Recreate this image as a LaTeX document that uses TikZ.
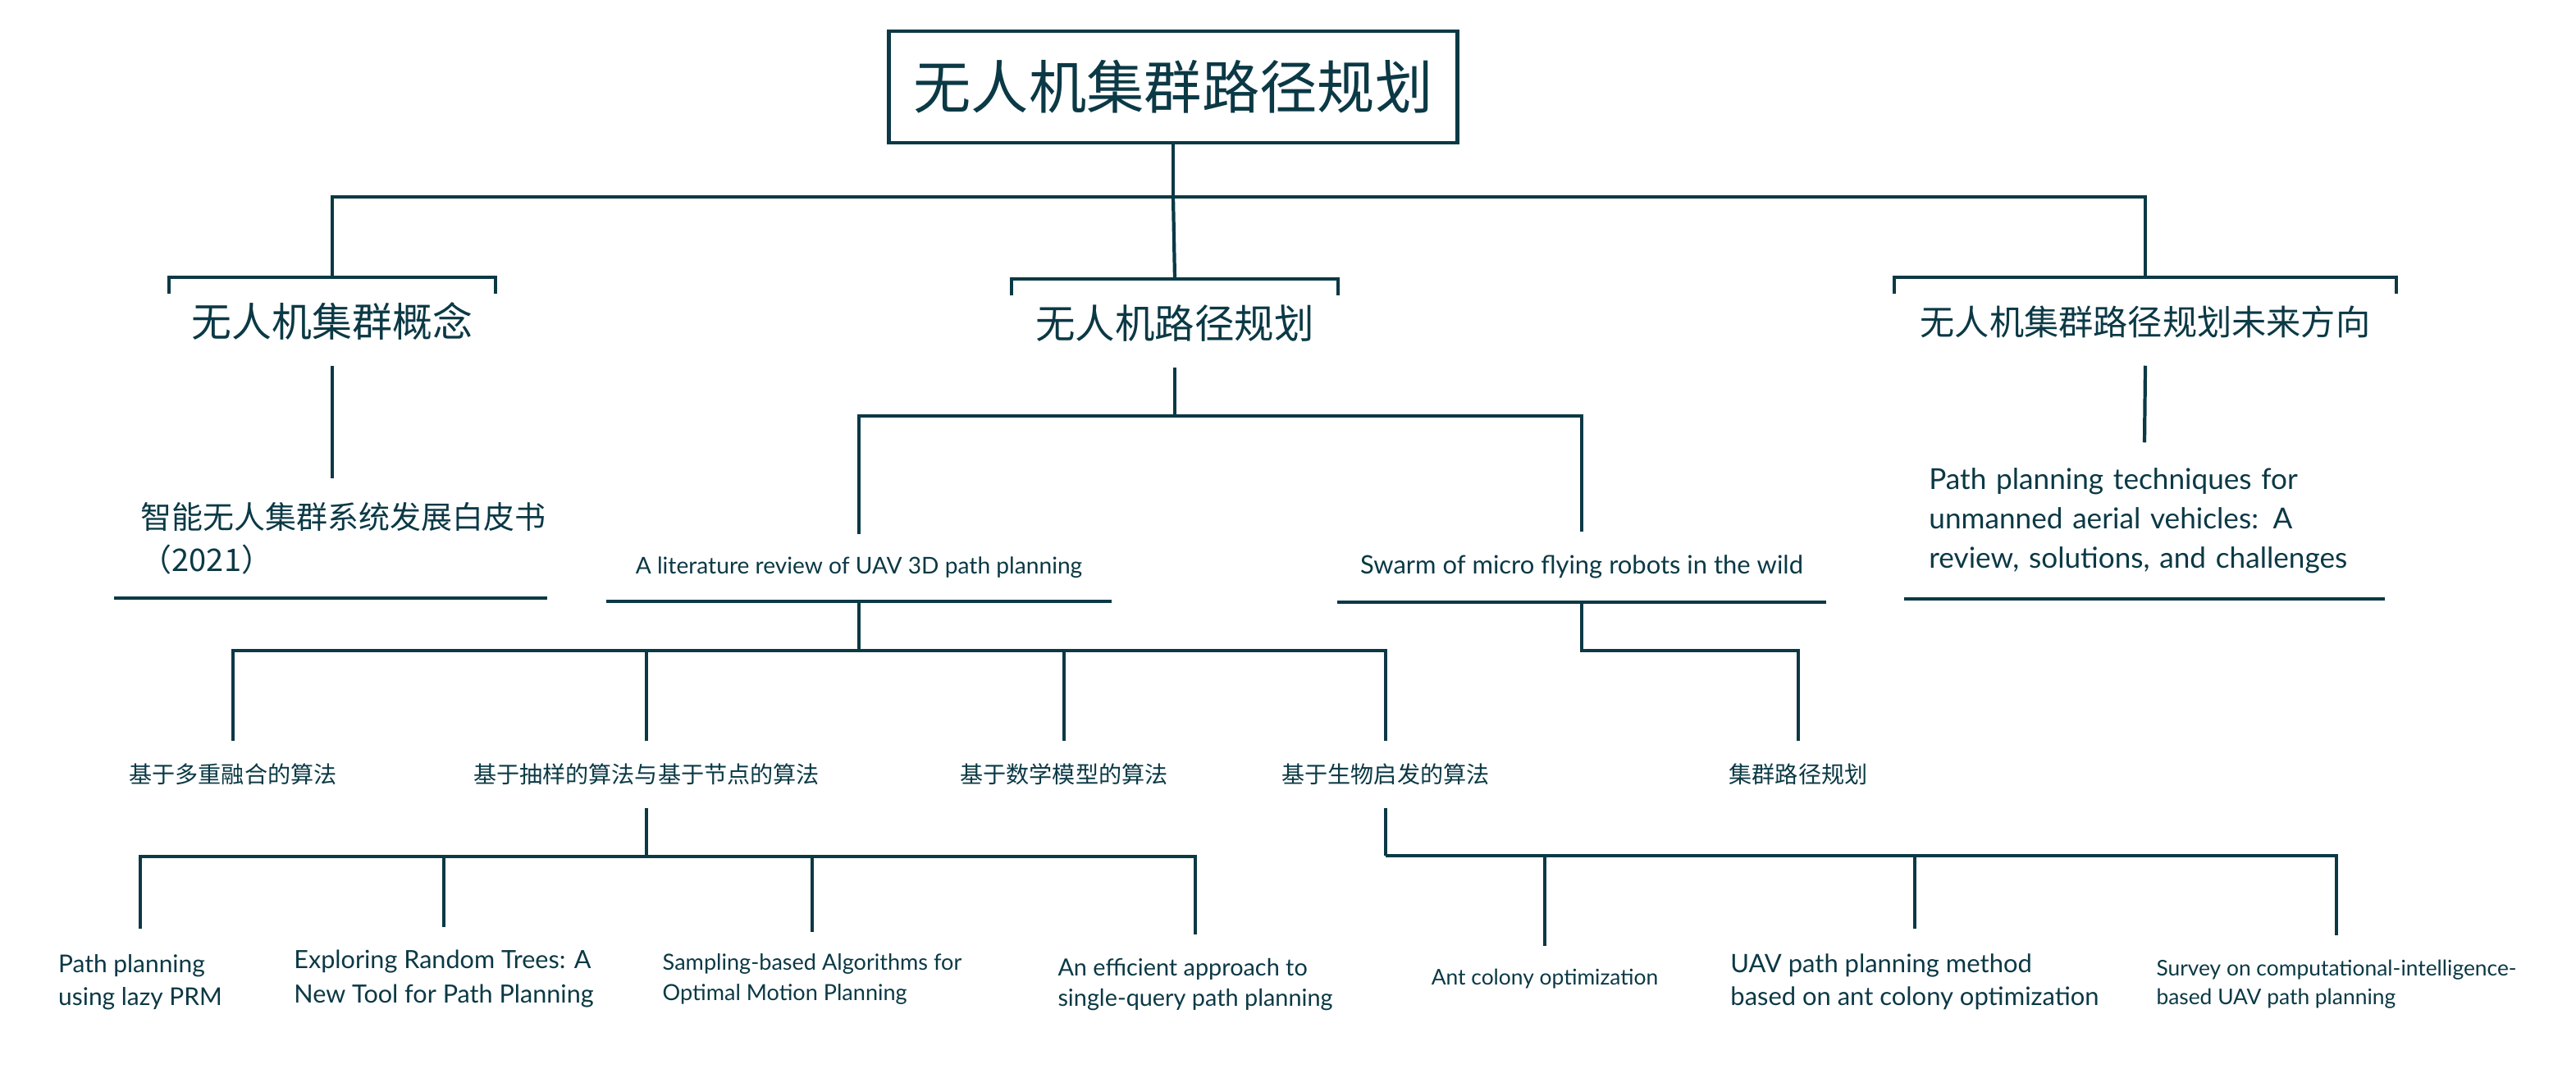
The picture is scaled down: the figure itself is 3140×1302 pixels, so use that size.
\documentclass[tikz,border=0pt]{standalone}
\usepackage{fontspec}
\setmainfont{Lato}
\newfontfamily\cjk{Noto Sans CJK SC}
\usetikzlibrary{positioning,calc}
\definecolor{treeink}{RGB}{11,57,69}
\newcommand{\fsz}[2]{\fontsize{#1}{#2}\selectfont}
\tikzset{
  link/.style={draw=treeink,line width=1.2pt},
  rootbox/.style={draw=treeink,line width=1.3pt,minimum width=6.93cm,minimum height=1.36cm,inner sep=0pt,text=treeink,font=\cjk\fsz{20}{24}},
  topic/.style={inner sep=0pt,minimum height=1.06cm,text=treeink},
  paper/.style={inner sep=0pt,align=left,text=treeink},
  method/.style={inner sep=0pt,minimum height=0.8cm,text=treeink,font=\cjk\fsz{8}{10}}
}
\begin{document}
\begin{tikzpicture}[x=0.01cm,y=-0.01cm]
  \useasboundingbox (0,0) rectangle (3140,1302);

  \node[rootbox] (root) at (1430,106) {无人机集群路径规划};

  \node[topic,minimum width=3.97cm,font=\cjk\fsz{13.9}{16}] (concept) at (405,392) {无人机集群概念};
  \node[topic,minimum width=3.96cm,font=\cjk\fsz{13.8}{16}] (uavpp) at (1432,394) {无人机路径规划};
  \node[topic,minimum width=6.10cm,font=\cjk\fsz{12}{14}] (future) at (2615,392) {无人机集群路径规划未来方向};

  \node[paper,text width=4.94cm,minimum height=1.45cm,font=\cjk\fsz{10.8}{14.8}] (whitebook) at (419,656) {智能无人集群系统发展白皮书\\（2021）};
  \node[paper,align=center,minimum width=6.14cm,minimum height=0.8cm,font=\fsz{8}{10}] (litrev) at (1047,692) {A literature review of UAV 3D path planning};
  \node[paper,align=center,minimum width=5.94cm,minimum height=0.84cm,font=\fsz{8.8}{10}] (swarm) at (1928,691) {Swarm of micro flying robots in the wild};
  \node[paper,text width=5.25cm,inner xsep=0.3cm,minimum height=1.89cm,font=\fsz{10}{13.7}] (survey) at (2614,634.5) {Path planning techniques for\\unmanned aerial vehicles: A\\review, solutions, and challenges};

  \node[method] (fusion) at (284,944) {基于多重融合的算法};
  \node[method] (sampling) at (788,944) {基于抽样的算法与基于节点的算法};
  \node[method] (mathmod) at (1297,944) {基于数学模型的算法};
  \node[method] (bioinsp) at (1689,944) {基于生物启发的算法};
  \node[method] (swarmpp) at (2192,944) {集群路径规划};

  \node[paper,minimum height=1.28cm,font=\fsz{8.5}{11.4}] (lazyprm) at (171,1197) {Path planning\\using lazy PRM};
  \node[paper,minimum height=1.24cm,font=\fsz{8.7}{11.8}] (rrt) at (541,1193) {Exploring Random Trees: A\\New Tool for Path Planning};
  \node[paper,minimum height=1.13cm,font=\fsz{7.7}{10.5}] (optmp) at (990,1193.5) {Sampling-based Algorithms for\\Optimal Motion Planning};
  \node[paper,minimum height=1.20cm,font=\fsz{8.2}{10.4}] (sqpp) at (1457,1200) {An efficient approach to\\single-query path planning};
  \node[paper,minimum height=0.78cm,font=\fsz{7.5}{9}] (antco) at (1883,1193) {Ant colony optimization};
  \node[paper,minimum height=1.28cm,font=\fsz{8.8}{11.4}] (uavaco) at (2334,1197) {UAV path planning method\\based on ant colony optimization};
  \node[paper,minimum height=1.17cm,font=\fsz{7.5}{10}] (cisurvey) at (2848,1199.5) {Survey on computational-intelligence-\\based UAV path planning};

  \coordinate (rootbar) at (1430,240);
  \coordinate (uavbar) at (1432,507);
  \coordinate (litbar) at (1047,793);
  \coordinate (swbar) at (1928,793);
  \coordinate (sampbar) at (788,1044);
  \coordinate (biobar) at (1689,1043);

  \draw[link] (root) -- (rootbar) -| (concept.north);
  \draw[link] (rootbar) -| (future.north);
  \draw[link] (rootbar) -- (uavpp.north);
  \foreach \t in {concept,uavpp,future}
    \draw[link] ([yshift=-0.2cm]\t.north west) -- (\t.north west) -- (\t.north east) -- ([yshift=-0.2cm]\t.north east);

  \draw[link] (concept.south) -- (concept.south |- whitebook.north);
  \draw[link] ([xshift=-0.32cm]whitebook.south west) -- (whitebook.south east);
  \draw[link] (uavpp.south) -- (uavbar) -| (litrev.north);
  \draw[link] (uavbar) -| (swarm.north);
  \draw[link] (future.south) -- (survey.north);
  \foreach \t in {litrev,swarm,survey}
    \draw[link] (\t.south west) -- (\t.south east);

  \draw[link] (litrev.south) -- (litbar) -| (fusion.north);
  \foreach \m in {sampling,mathmod,bioinsp}
    \draw[link] (litbar) -| (\m.north);
  \draw[link] (swarm.south) -- (swbar) -| (swarmpp.north);

  \draw[link] (sampling.south) -- (sampbar);
  \foreach \p in {lazyprm,rrt,optmp,sqpp}
    \draw[link] (sampbar) -| (\p.north);
  \draw[link] (bioinsp.south) -- (biobar);
  \foreach \p in {antco,uavaco,cisurvey}
    \draw[link] (biobar) -| (\p.north);
\end{tikzpicture}
\end{document}
